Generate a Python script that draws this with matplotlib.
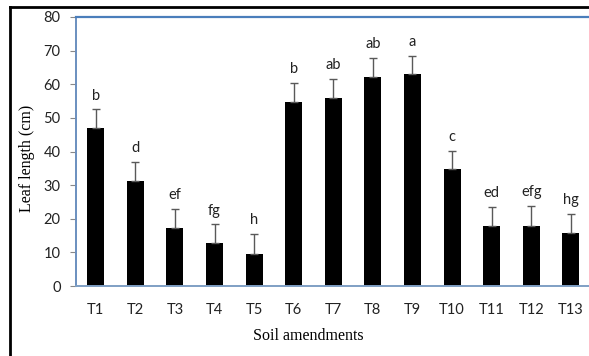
import matplotlib.pyplot as plt
from matplotlib.lines import Line2D

# data
treatments = ["T1", "T2", "T3", "T4", "T5", "T6", "T7", "T8", "T9", "T10", "T11", "T12", "T13"]
leaf_length = [46.9, 31.2, 17.3, 12.8, 9.4, 54.7, 55.9, 62.1, 63.0, 34.7, 17.9, 17.9, 15.9]
std_err = [5.6, 5.6, 5.7, 5.5, 6.0, 5.6, 5.8, 5.6, 5.5, 5.5, 5.7, 5.9, 5.5]
letters = ["b", "d", "ef", "fg", "h", "b", "ab", "ab", "a", "c", "ed", "efg", "hg"]

sans = ["Lato", "DejaVu Sans"]
serif = ["Liberation Serif", "DejaVu Serif"]

fig = plt.figure(figsize=(5.89, 3.56), dpi=100)
# axes box in pixels: left 76, top 17, bottom 286, runs off the right edge
W, H = 589, 356
ax = fig.add_axes([76 / W, (H - 286) / H, (589 - 76) / W, (286 - 17) / H])

x = list(range(1, len(treatments) + 1))
ax.bar(x, leaf_length, width=0.43, color="black", zorder=2)
ax.errorbar(x, leaf_length, yerr=[[0] * len(x), std_err], fmt="none",
            ecolor="#595959", elinewidth=1.0, capsize=3, capthick=1.0, zorder=3)

for xi, v, e, lab in zip(x, leaf_length, std_err, letters):
    ax.annotate(lab, (xi, v + e), textcoords="offset points", xytext=(0, 5),
                ha="center", va="bottom", fontsize=10.5, family=sans, color="#222222")

ax.set_xlim(0.5, 13.46)
ax.set_ylim(0, 80)
ax.set_yticks(range(0, 81, 10))
ax.set_xticks(x)
ax.set_xticklabels(treatments)

for lbl in ax.get_xticklabels() + ax.get_yticklabels():
    lbl.set_family(sans)
    lbl.set_fontsize(10.5)
    lbl.set_color("#222222")
ax.tick_params(axis="y", length=4, width=0.8, color="#888888", pad=7)
ax.tick_params(axis="x", length=0, pad=12)

ax.spines["right"].set_visible(False)
ax.spines["top"].set_color("#4a7ebb")
ax.spines["top"].set_linewidth(1.6)
ax.spines["left"].set_color("#6a8fbf")
ax.spines["left"].set_linewidth(1.4)
ax.spines["bottom"].set_color("#7f9fc4")
ax.spines["bottom"].set_linewidth(1.4)

fig.text(27 / W, 1 - 158 / H, "Leaf length (cm)", rotation=90, ha="center", va="center",
         family=serif, fontsize=11.5)
fig.text(308 / W, 1 - 336 / H, "Soil amendments", ha="center", va="center",
         family=serif, fontsize=11.5)

# outer frame, top and left only (picture is cropped)
fig.add_artist(Line2D([9.7 / W, 1], [1 - 7 / H, 1 - 7 / H], color="black", lw=2.0))
fig.add_artist(Line2D([9.7 / W, 9.7 / W], [0, 1 - 7 / H], color="black", lw=2.0))

fig.savefig("out.png", dpi=100)
